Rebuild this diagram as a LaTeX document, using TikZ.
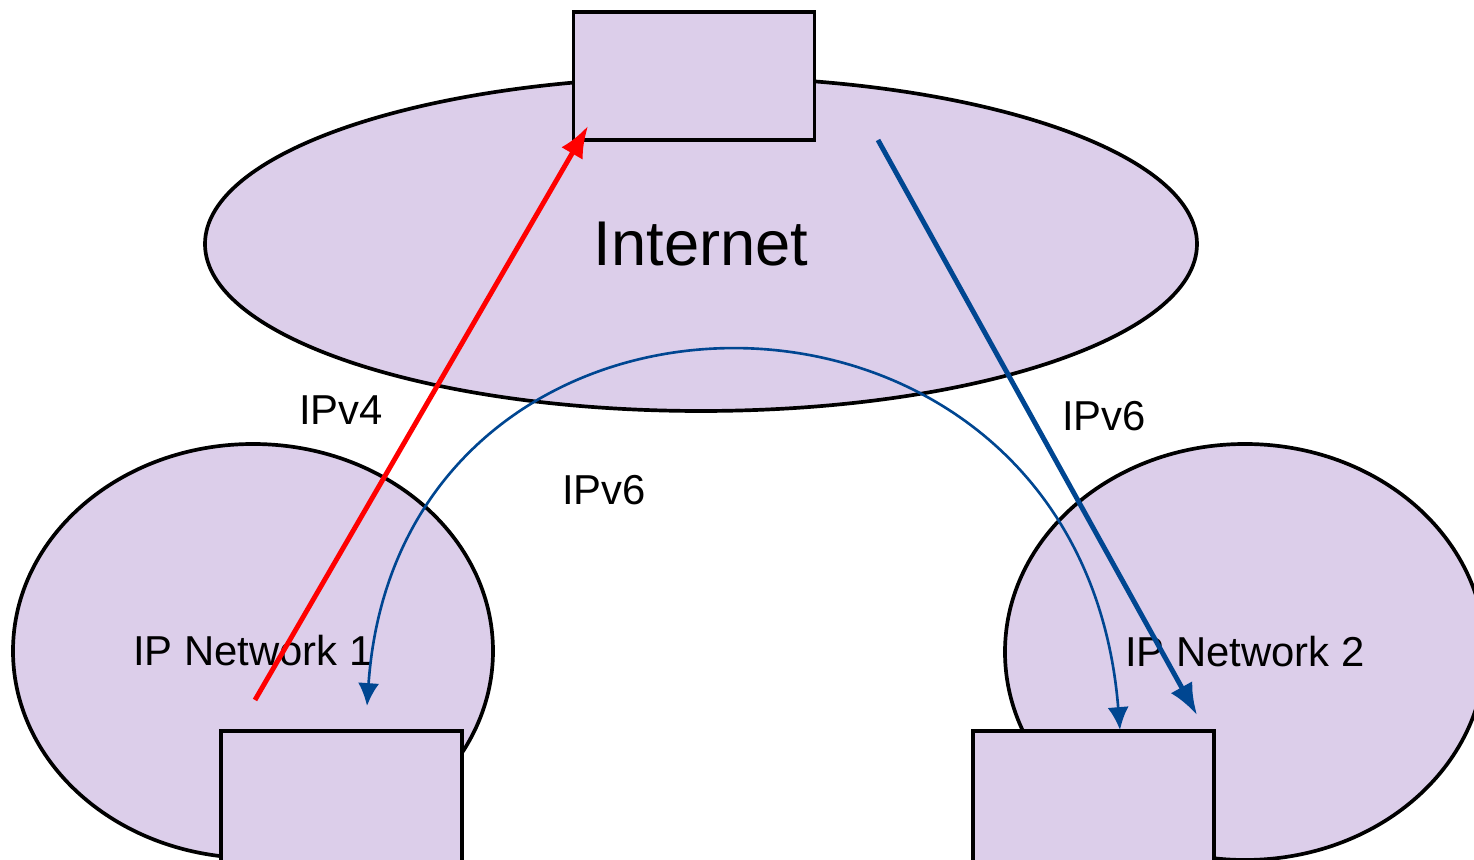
\documentclass[tikz,border=0pt]{standalone}
\usepackage{fontspec}
\setmainfont{Liberation Sans}
\usetikzlibrary{shapes.geometric,arrows.meta}
\definecolor{netfill}{RGB}{220,206,234}
\definecolor{netblue}{RGB}{0,70,145}
\tikzset{
	net/.style={ellipse, draw, line width=1.05pt, fill=netfill, inner sep=0pt},
	hostbox/.style={rectangle, draw, line width=1.05pt, fill=netfill, minimum width=2.41cm, inner sep=0pt},
	lbl/.style={font=\fontsize{11.9}{14}\selectfont}
}
\begin{document}
\begin{tikzpicture}
	\clip (0,0) rectangle (14.74,8.60);%Rand

	\node[net, minimum width=9.92cm, minimum height=3.34cm, font=\fontsize{18}{22}\selectfont] (inet) at (7.01,6.16) {Internet};
	\node[net, minimum width=4.80cm, minimum height=4.14cm, lbl] (net1) at (2.53,2.09) {IP Network 1};
	\node[net, minimum width=4.80cm, minimum height=4.16cm, lbl] (net2) at (12.45,2.08) {IP Network 2};

	\node[hostbox, minimum height=1.28cm] (gw) at (6.94,7.84) {};%oben
	\node[hostbox, minimum height=1.39cm] (host1) at (3.415,0.595) {};%links
	\node[hostbox, minimum height=1.39cm] (host2) at (10.935,0.595) {};%rechts

	\node[lbl] (v4) at (3.41,4.50) {IPv4};
	\node[lbl] (v6a) at (6.04,3.70) {IPv6};
	\node[lbl] (v6b) at (11.04,4.44) {IPv6};

	\coordinate (r1) at (2.55,1.60);
	\coordinate (r2) at (5.88,7.34);
	\draw[line width=1.4pt, red, -{Latex[length=9pt,width=7pt]}] (r1) -- (r2);%IPv4 Tunnel

	\coordinate (b1) at (8.78,7.20);
	\coordinate (b2) at (11.97,1.45);
	\draw[line width=1.4pt, netblue, -{Latex[length=9pt,width=7pt]}] (b1) -- (b2);

	\coordinate (c1) at (3.67,1.54);
	\coordinate (c2) at (11.20,1.30);
	\draw[line width=0.75pt, netblue, {Latex[length=6.5pt,width=6pt]}-{Latex[length=6.5pt,width=6pt]}] (c1) .. controls (4.0,6.28) and (10.8,6.28) .. (c2);%Bogen
\end{tikzpicture}
\end{document}
